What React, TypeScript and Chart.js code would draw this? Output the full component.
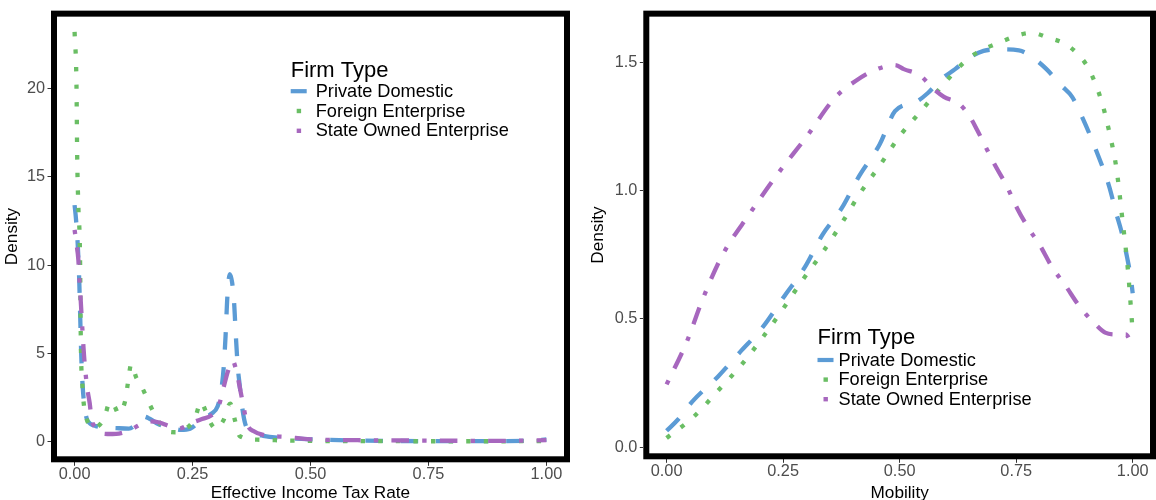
import { useEffect, useRef } from "react";
import { Chart, registerables } from "chart.js";

Chart.register(...registerables);

// ---------- labels ----------
const firmTypes = ["Private Domestic", "Foreign Enterprise", "State Owned Enterprise"];
const legendTitle = "Firm Type";
const taxXTitle = "Effective Income Tax Rate";
const mobXTitle = "Mobility";
const yTitle = "Density";

// ---------- ticks ----------
const xTickValues = [0, 0.25, 0.5, 0.75, 1];
const xTickLabels = ["0.00", "0.25", "0.50", "0.75", "1.00"];
const taxYTickValues = [0, 5, 10, 15, 20];
const taxYTickLabels = ["0", "5", "10", "15", "20"];
const mobYTickValues = [0, 0.5, 1, 1.5];
const mobYTickLabels = ["0.0", "0.5", "1.0", "1.5"];

// ---------- left panel: Effective Income Tax Rate ----------
const taxPrivateX = [0, 0.003, 0.007, 0.01, 0.012, 0.014, 0.017, 0.021, 0.026, 0.035, 0.045, 0.06, 0.09, 0.115, 0.13, 0.145, 0.16, 0.177, 0.2, 0.225, 0.245, 0.27, 0.29, 0.303, 0.31, 0.316, 0.32, 0.324, 0.329, 0.334, 0.338, 0.342, 0.346, 0.35, 0.355, 0.362, 0.375, 0.4, 0.45, 0.5, 0.6, 0.75, 0.9, 0.97, 1.0];
const taxPrivateY = [13.4, 12.6, 11.0, 9.0, 7.0, 5.0, 3.2, 2.0, 1.3, 1.0, 0.9, 0.82, 0.78, 0.76, 1.0, 1.45, 1.3, 1.02, 0.85, 0.68, 0.75, 1.3, 1.6, 2.0, 2.8, 4.2, 6.0, 8.3, 9.5, 9.0, 7.9, 5.9, 4.2, 3.2, 2.0, 1.0, 0.6, 0.35, 0.22, 0.15, 0.08, 0.05, 0.05, 0.07, 0.14];

const taxForeignX = [0, 0.004, 0.0055, 0.008, 0.011, 0.012, 0.0125, 0.014, 0.016, 0.018, 0.023, 0.03, 0.037, 0.05, 0.063, 0.075, 0.085, 0.093, 0.1, 0.108, 0.113, 0.12, 0.131, 0.145, 0.159, 0.175, 0.195, 0.215, 0.23, 0.255, 0.268, 0.277, 0.29, 0.3, 0.315, 0.33, 0.34, 0.35, 0.387, 0.425, 0.5, 0.6, 0.75, 0.9, 1.0];
const taxForeignY = [23.2, 20.2, 16.2, 13.3, 11.3, 9.4, 7.45, 4.55, 3.5, 2.56, 1.57, 1.0, 0.79, 0.9, 1.36, 2.27, 2.0, 1.6, 1.8, 2.42, 3.34, 4.4, 3.62, 2.97, 2.14, 1.3, 0.61, 0.55, 0.65, 1.34, 2.27, 1.8, 1.0, 0.75, 1.2, 2.17, 1.21, 0.33, 0.13, 0.1, 0.06, 0.05, 0.04, 0.04, 0.05];

const taxStateX = [0, 0.004, 0.008, 0.01, 0.013, 0.016, 0.02, 0.023, 0.027, 0.032, 0.036, 0.045, 0.053, 0.07, 0.088, 0.105, 0.12, 0.14, 0.16, 0.18, 0.2, 0.22, 0.25, 0.27, 0.29, 0.305, 0.315, 0.325, 0.335, 0.343, 0.351, 0.358, 0.366, 0.38, 0.4, 0.45, 0.5, 0.6, 0.75, 0.9, 1.0];
const taxStateY = [12.0, 11.2, 10.3, 9.3, 8.0, 6.6, 4.9, 3.96, 3.0, 2.2, 1.3, 0.8, 0.55, 0.45, 0.46, 0.55, 0.7, 1.0, 1.17, 1.1, 0.9, 0.75, 1.1, 1.3, 1.5, 2.0, 3.0, 4.0, 4.6, 4.0, 2.97, 2.0, 1.0, 0.6, 0.4, 0.28, 0.15, 0.1, 0.08, 0.06, 0.1];

// ---------- right panel: Mobility ----------
const mobPrivateX = [0, 0.025, 0.056, 0.11, 0.157, 0.207, 0.253, 0.296, 0.335, 0.375, 0.414, 0.457, 0.49, 0.536, 0.56, 0.59, 0.619, 0.65, 0.68, 0.713, 0.756, 0.79, 0.815, 0.847, 0.87, 0.894, 0.921, 0.949, 0.965, 0.976, 0.988, 0.996, 1.0];
const mobPrivateY = [0.064, 0.109, 0.18, 0.275, 0.37, 0.47, 0.59, 0.7, 0.83, 0.93, 1.06, 1.18, 1.31, 1.347, 1.38, 1.436, 1.474, 1.519, 1.545, 1.551, 1.547, 1.513, 1.474, 1.41, 1.366, 1.277, 1.16, 1.02, 0.91, 0.84, 0.74, 0.66, 0.6];

const mobForeignX = [0, 0.059, 0.11, 0.16, 0.207, 0.25, 0.291, 0.335, 0.376, 0.415, 0.458, 0.5, 0.548, 0.595, 0.65, 0.713, 0.784, 0.819, 0.855, 0.884, 0.906, 0.933, 0.951, 0.965, 0.978, 0.99, 1.0];
const mobForeignY = [0.036, 0.12, 0.22, 0.32, 0.43, 0.54, 0.65, 0.76, 0.874, 0.99, 1.1, 1.213, 1.315, 1.417, 1.519, 1.577, 1.615, 1.596, 1.573, 1.529, 1.474, 1.35, 1.219, 1.088, 0.887, 0.686, 0.45];

const mobStateX = [0, 0.043, 0.078, 0.12, 0.178, 0.236, 0.3, 0.36, 0.407, 0.446, 0.49, 0.509, 0.544, 0.572, 0.595, 0.627, 0.65, 0.666, 0.68, 0.705, 0.729, 0.752, 0.776, 0.8, 0.827, 0.855, 0.886, 0.917, 0.941, 0.965, 0.985, 1.0];
const mobStateY = [0.245, 0.41, 0.58, 0.75, 0.91, 1.06, 1.21, 1.36, 1.43, 1.47, 1.49, 1.474, 1.449, 1.398, 1.366, 1.34, 1.29, 1.238, 1.187, 1.098, 1.021, 0.932, 0.855, 0.79, 0.702, 0.632, 0.549, 0.485, 0.447, 0.44, 0.44, 0.39];

// ---------- styles ----------
const FONT = "'Liberation Sans', Arial, sans-serif";
const colors = ["#5B9BD5", "#6ABE64", "#A767BE"];
const U = 4.4; // dash unit
const dashes = [[4 * U, 4 * U], [U, 3 * U], [U, 3 * U, 4 * U, 3 * U]];
const LW = 4.3;

const zip = (xs: number[], ys: number[]) => xs.map((x, i) => ({ x, y: ys[i] }));

const panelPlugin = {
  id: "panelDeco",
  afterDatasetsDraw(chart: any, _args: any, opts: any) {
    const { ctx, chartArea } = chart;
    const { left, top, right, bottom } = chartArea;
    ctx.save();
    ctx.strokeStyle = "#000000";
    ctx.lineWidth = 6;
    ctx.strokeRect(left + 3, top + 3, right - left - 6, bottom - top - 6);
    // legend
    const L = opts;
    ctx.fillStyle = "#000000";
    ctx.textBaseline = "alphabetic";
    ctx.textAlign = "left";
    ctx.font = `22px ${FONT}`;
    ctx.fillText(legendTitle, L.keyX, L.titleY);
    ctx.font = `18.2px ${FONT}`;
    firmTypes.forEach((name, i) => {
      const base = L.rowY + i * L.rowGap;
      ctx.fillStyle = "#000000";
      ctx.fillText(name, L.textX, base);
      const cy = base - 5.5;
      ctx.fillStyle = colors[i];
      if (i === 0) {
        ctx.fillRect(L.keyX, cy - 2.1, 16, 4.2);
      } else {
        ctx.fillRect(L.keyX + 6, cy - 2.2, 4.4, 4.4);
      }
    });
    ctx.restore();
  },
};

type PanelCfg = {
  series: [number[], number[]][];
  yMin: number;
  yMax: number;
  yTicks: number[];
  yLabels: string[];
  xTitle: string;
  yAxisW: number;
  xAxisH: number;
  padding: { left: number; right: number; top: number; bottom: number };
  yTitlePad: number;
  legend: { keyX: number; textX: number; titleY: number; rowY: number; rowGap: number };
};

function makeConfig(p: PanelCfg): any {
  return {
    type: "scatter",
    data: {
      datasets: p.series.map(([xs, ys], i) => ({
        label: firmTypes[i],
        data: zip(xs, ys),
        showLine: true,
        borderColor: colors[i],
        backgroundColor: colors[i],
        borderWidth: LW,
        borderDash: dashes[i],
        borderCapStyle: "butt",
        borderJoinStyle: "round",
        pointRadius: 0,
        pointHoverRadius: 0,
        cubicInterpolationMode: "monotone",
        order: 3 - i,
      })),
    },
    options: {
      responsive: false,
      animation: false,
      events: [],
      layout: { padding: p.padding },
      plugins: {
        legend: { display: false },
        tooltip: { enabled: false },
        panelDeco: p.legend,
      },
      scales: {
        x: {
          type: "linear",
          min: -0.05,
          max: 1.05,
          afterBuildTicks: (s: any) => {
            s.ticks = xTickValues.map((v) => ({ value: v }));
          },
          afterFit: (s: any) => {
            s.height = p.xAxisH;
          },
          ticks: {
            callback: (_v: any, i: number) => xTickLabels[i],
            color: "#4D4D4D",
            font: { family: FONT, size: 16.3, lineHeight: 1 },
            padding: 1,
            maxRotation: 0,
            autoSkip: false,
          },
          grid: { display: true, drawOnChartArea: false, drawTicks: true, tickLength: 3.5, color: "#333333", lineWidth: 1 },
          border: { display: false },
          title: {
            display: true,
            text: p.xTitle,
            color: "#000000",
            font: { family: FONT, size: 17.2, lineHeight: 1.2 },
            padding: { top: 0, bottom: -3.3 },
          },
        },
        y: {
          type: "linear",
          min: p.yMin,
          max: p.yMax,
          afterBuildTicks: (s: any) => {
            s.ticks = p.yTicks.map((v) => ({ value: v }));
          },
          afterFit: (s: any) => {
            s.width = p.yAxisW;
          },
          ticks: {
            callback: (_v: any, i: number) => p.yLabels[i],
            color: "#4D4D4D",
            font: { family: FONT, size: 16.3, lineHeight: 1 },
            padding: 2.5,
            autoSkip: false,
          },
          grid: { display: true, drawOnChartArea: false, drawTicks: true, tickLength: 3.5, color: "#333333", lineWidth: 1 },
          border: { display: false },
          title: {
            display: true,
            text: yTitle,
            color: "#000000",
            font: { family: FONT, size: 17.2, lineHeight: 1.2 },
            padding: { top: p.yTitlePad, bottom: 0 },
          },
        },
      },
    },
    plugins: [panelPlugin],
  };
}

function Panel({ left, width, cfg }: { left: number; width: number; cfg: PanelCfg }) {
  const ref = useRef<HTMLCanvasElement | null>(null);
  useEffect(() => {
    if (!ref.current) return;
    const chart = new Chart(ref.current, makeConfig(cfg));
    return () => chart.destroy();
  }, []);
  return (
    <canvas
      ref={ref}
      width={width}
      height={500}
      style={{ position: "absolute", left, top: 0, width, height: 500 }}
    />
  );
}

const taxCfg: PanelCfg = {
  series: [
    [taxPrivateX, taxPrivateY],
    [taxForeignX, taxForeignY],
    [taxStateX, taxStateY],
  ],
  yMin: -1.15,
  yMax: 24.4,
  yTicks: taxYTickValues,
  yLabels: taxYTickLabels,
  xTitle: taxXTitle,
  yAxisW: 51,
  xAxisH: 37.7,
  padding: { left: 0, right: 10, top: 3, bottom: 0 },
  yTitlePad: 1.9,
  legend: { keyX: 290.7, textX: 315.7, titleY: 76.7, rowY: 96.7, rowGap: 19.8 },
};

const mobCfg: PanelCfg = {
  series: [
    [mobPrivateX, mobPrivateY],
    [mobForeignX, mobForeignY],
    [mobStateX, mobStateY],
  ],
  yMin: -0.047,
  yMax: 1.702,
  yTicks: mobYTickValues,
  yLabels: mobYTickLabels,
  xTitle: mobXTitle,
  yAxisW: 63.3,
  xAxisH: 40.7,
  padding: { left: 0, right: 0, top: 3.3, bottom: 0 },
  yTitlePad: 7.7,
  legend: { keyX: 237.5, textX: 258.5, titleY: 344, rowY: 365.5, rowGap: 19.6 },
};

export default function App() {
  return (
    <div style={{ position: "absolute", left: 0, top: 0, width: 1156, height: 500, background: "#ffffff", overflow: "hidden" }}>
      <Panel left={0} width={580} cfg={taxCfg} />
      <Panel left={580} width={576} cfg={mobCfg} />
    </div>
  );
}
